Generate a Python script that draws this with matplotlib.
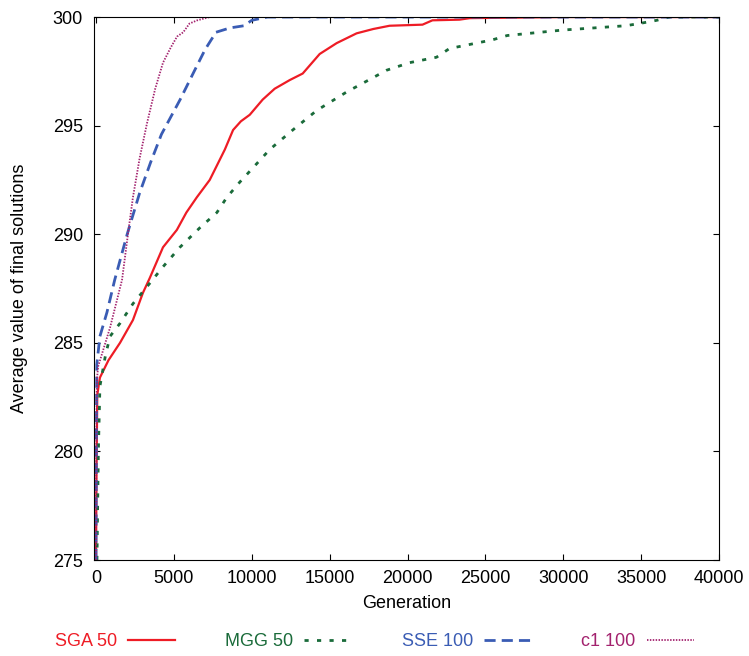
import matplotlib.pyplot as plt

plt.rcParams['font.family'] = ['Liberation Sans', 'DejaVu Sans']

# SGA 50
sga_gen = [0, 30, 80, 250, 800, 1540, 2370, 3010, 3460, 4300, 5190, 5800, 6470, 7300,
           8270, 8800, 9300, 9870, 10700, 11470, 12440, 13270, 14360, 15450, 16730,
           17800, 18850, 20960, 21600, 23330, 24000, 30000, 40000]
sga_val = [275, 279, 282.6, 283.4, 284.2, 285.0, 286.05, 287.3, 288.0, 289.4, 290.2,
           291.0, 291.7, 292.5, 293.9, 294.8, 295.2, 295.5, 296.2, 296.7, 297.1, 297.4,
           298.3, 298.8, 299.25, 299.45, 299.6, 299.65, 299.85, 299.88, 299.95, 300.0,
           300.0]

# MGG 50
mgg_gen = [60, 150, 250, 600, 900, 1540, 2370, 3460, 4300, 5385, 6670, 7760, 8400,
           9230, 10000, 11150, 12630, 14170, 16090, 17760, 18650, 20130, 21860, 22690,
           25450, 26400, 29940, 34000, 34870, 36000, 36800, 40000]
mgg_val = [275, 280, 283.0, 284.4, 285.3, 285.9, 286.8, 287.75, 288.5, 289.4, 290.3,
           291.0, 291.7, 292.4, 293.0, 293.9, 294.8, 295.7, 296.55, 297.2, 297.55, 297.9,
           298.15, 298.55, 298.95, 299.15, 299.4, 299.6, 299.7, 299.85, 300.0, 300.0]

# SSE 100
sse_gen = [0, 20, 50, 250, 700, 1200, 2000, 2800, 3500, 4200, 5400, 6300, 7000, 7700,
           8600, 9500, 10000, 11000, 40000]
sse_val = [275, 280, 284.0, 285.3, 286.4, 287.9, 290.0, 291.9, 293.3, 294.6, 296.2,
           297.5, 298.5, 299.3, 299.5, 299.6, 299.85, 300.0, 300.0]

# c1 100
c1_gen = [0, 20, 50, 130, 900, 1670, 2050, 2370, 2800, 3270, 3800, 4300, 4800, 5200,
          5600, 6000, 6500, 7300, 40000]
c1_val = [275, 280, 283.2, 283.9, 285.7, 287.9, 290.0, 291.7, 293.5, 295.1, 296.7,
          297.9, 298.6, 299.1, 299.3, 299.7, 299.85, 300.0, 300.0]

fig = plt.figure(figsize=(7.49, 6.56), dpi=100)
ax = fig.add_axes([0.1255, 0.1463, 0.8345, 0.8277])

ax.plot(sga_gen, sga_val, color='#ee1c25', lw=1.6, label='SGA 50')
ax.plot(mgg_gen, mgg_val, color='#1a6b3a', lw=2.0, dashes=(1.5, 3), label='MGG 50')
ax.plot(sse_gen, sse_val, color='#3a5cb4', lw=2.0, dashes=(4, 2.2), label='SSE 100')
ax.plot(c1_gen, c1_val, color='#a3226e', lw=1.3, dashes=(0.8, 0.8), label='c1 100')

ax.set_xlim(-130, 40000)
ax.set_ylim(275, 300)
ax.set_xticks(range(0, 40001, 5000))
ax.set_yticks(range(275, 301, 5))
ax.tick_params(direction='in', top=True, right=True, labelsize=13, length=4, pad=7)
ax.tick_params(axis='y', pad=8)
ax.set_xlabel('Generation', fontsize=13)
ax.set_ylabel('Average value of final solutions', fontsize=13)
ax.xaxis.set_label_coords(0.5, -0.064)
ax.yaxis.set_label_coords(-0.106, 0.5)

fig.legend(loc='lower left', bbox_to_anchor=(0.0734, 0.009), ncol=4, frameon=False,
           markerfirst=False, labelcolor='linecolor', fontsize=13,
           handlelength=2.6, columnspacing=2.8, handletextpad=0.6,
           borderpad=0, borderaxespad=0)

fig.savefig('out.png', dpi=100)
